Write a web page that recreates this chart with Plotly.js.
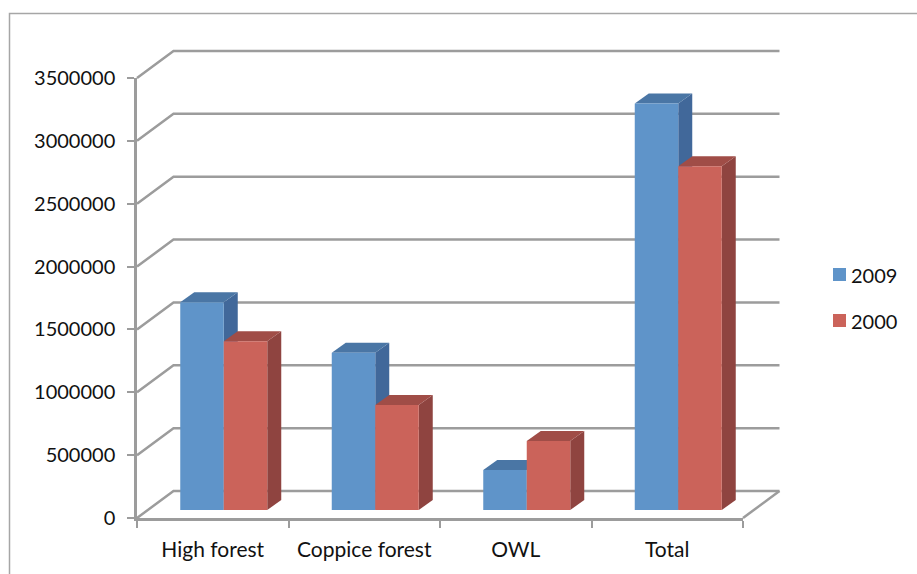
<!DOCTYPE html>
<html>
<head>
<meta charset="utf-8">
<script src="https://cdn.plot.ly/plotly-3.0.1.min.js"></script>
<style>html,body{margin:0;padding:0;background:#fff}#chart{width:917px;height:574px}</style>
</head>
<body>
<div id="chart"></div>
<script>
// Forest area by type
const categories = ['High forest', 'Coppice forest', 'OWL', 'Total'];
const series2009 = [1653000, 1250000, 318000, 3233000];
const series2000 = [1343000, 835000, 548000, 2734000];
const seriesNames = ['2009', '2000'];
const yTicks = [0, 500000, 1000000, 1500000, 2000000, 2500000, 3000000, 3500000];

// Pseudo-3D geometry, in pixels. The front plane carries the axes, the column
// plane the bars, and a slightly larger hidden subplot holds the wall and its edges.
const W = 917, H = 574;
const front = {left: 137, right: 743, bottom: 518, top: 78};
const wallShift = {x: 36.5, y: 27};
const barShift = {x: 11, y: 8};
const barDepth = {x: 14, y: 10};
const wallPad = 4;

const yMax = 3500000;
const pxPerCat = (front.right - front.left) / categories.length;
const pxPerVal = (front.bottom - front.top) / yMax;
const barPx = 43.5;

const gridColor = '#9c9c9c';
const blue = {face: '#5f94c9', side: '#41689a', top: '#4a76a5'};
const red = {face: '#cb635a', side: '#8f4440', top: '#a04d47'};
const fontFamily = 'Lato, "Open Sans", sans-serif';
const textColor = '#111111';

const xDomain = s => [(front.left + s.x) / W, (front.right + s.x) / W];
const yDomain = s => [(H - front.bottom + s.y) / H, (H - front.top + s.y) / H];
const catRange = [-0.5, categories.length - 0.5];
const dxCat = wallShift.x / pxPerCat, dyVal = wallShift.y / pxPerVal;

// Wall gridlines with their receding edges: front tick, back-left corner, back-right corner
const wallX = [], wallY = [];
yTicks.forEach(v => {
  wallX.push(catRange[0], catRange[0] + dxCat, catRange[1] + dxCat, null);
  wallY.push(v, v + dyVal, v + dyVal, null);
});
wallX.push(catRange[1] + dxCat, catRange[1], null);
wallY.push(dyVal, 0, null);

// Side and top faces of each column, derived from its value
const faceDx = barDepth.x / pxPerCat, faceDy = barDepth.y / pxPerVal;
const barW = barPx / pxPerCat;
function columnFaces(values, offset, c) {
  const out = [];
  values.forEach((v, i) => {
    const x0 = i + offset * barW, x1 = x0 + barW;
    const common = {type: 'path', xref: 'x3', yref: 'y3', layer: 'between', line: {width: 0}};
    out.push(Object.assign({}, common, {
      fillcolor: c.side,
      path: `M${x1},0 L${x1 + faceDx},${faceDy} L${x1 + faceDx},${v + faceDy} L${x1},${v} Z`
    }));
    out.push(Object.assign({}, common, {
      fillcolor: c.top,
      path: `M${x0},${v} L${x0 + faceDx},${v + faceDy} L${x1 + faceDx},${v + faceDy} L${x1},${v} Z`
    }));
  });
  return out;
}

// Legend swatches and labels
const legendRows = [
  {name: seriesNames[0], color: blue.face, y: 275},
  {name: seriesNames[1], color: red.face, y: 321}
];
const swatches = legendRows.map(r => ({
  type: 'rect', xref: 'paper', yref: 'paper', layer: 'above', line: {width: 0}, fillcolor: r.color,
  x0: 833 / W, x1: 846 / W, y0: 1 - (r.y + 6) / H, y1: 1 - (r.y - 7) / H
}));
const legendText = legendRows.map(r => ({
  text: r.name, xref: 'paper', yref: 'paper', x: 849 / W, y: 1 - r.y / H,
  xanchor: 'left', yanchor: 'middle', showarrow: false,
  font: {family: fontFamily, size: 20, color: textColor}
}));

// Outer frame, open past the right and bottom edges of the page
const frame = {
  type: 'path', xref: 'paper', yref: 'paper', layer: 'above',
  line: {color: '#a6a6a6', width: 1.5},
  path: `M${9.5 / W},-0.1 L${9.5 / W},${1 - 13.5 / H} L1.1,${1 - 13.5 / H}`
};

const traces = [
  {type: 'scatter', mode: 'lines', x: wallX, y: wallY, xaxis: 'x', yaxis: 'y',
   hoverinfo: 'skip', showlegend: false, line: {color: gridColor, width: 2.5}},
  // A blank trace keeps the front-plane axes in place
  {type: 'scatter', mode: 'none', x: [categories[0]], y: [0], xaxis: 'x2', yaxis: 'y2',
   hoverinfo: 'skip', showlegend: false},
  {type: 'bar', name: seriesNames[0], x: categories, y: series2009, xaxis: 'x3', yaxis: 'y3',
   marker: {color: blue.face, line: {width: 0}}, showlegend: false},
  {type: 'bar', name: seriesNames[1], x: categories, y: series2000, xaxis: 'x3', yaxis: 'y3',
   marker: {color: red.face, line: {width: 0}}, showlegend: false}
];

const hiddenAxis = {showgrid: false, zeroline: false, showline: false, ticks: '', showticklabels: false, fixedrange: true};

const layout = {
  width: W, height: H,
  margin: {l: 0, r: 0, t: 0, b: 0, pad: 0},
  paper_bgcolor: '#ffffff', plot_bgcolor: 'rgba(0,0,0,0)',
  showlegend: false,
  barmode: 'group',
  bargap: 1 - 2 * barPx / pxPerCat,
  bargroupgap: 0,
  // Wall subplot: spans the front plane and the wall, with a little room for line width
  xaxis: Object.assign({}, hiddenAxis, {
    domain: [(front.left - wallPad) / W, (front.right + wallShift.x + wallPad) / W],
    range: [catRange[0] - wallPad / pxPerCat, catRange[1] + dxCat + wallPad / pxPerCat],
    anchor: 'y', type: 'linear'}),
  yaxis: Object.assign({}, hiddenAxis, {
    domain: [(H - front.bottom - wallPad) / H, (H - front.top + wallShift.y + wallPad) / H],
    range: [-wallPad / pxPerVal, yMax + dyVal + wallPad / pxPerVal],
    anchor: 'x'}),
  // Front plane: the visible axes
  xaxis2: {domain: xDomain({x: 0, y: 0}), range: catRange, anchor: 'y2', type: 'category',
    categoryorder: 'array', categoryarray: categories, tickvals: categories, ticktext: categories, tickmode: 'array',
    tickson: 'boundaries', ticks: 'outside', ticklen: 7, tickwidth: 1.5, tickcolor: gridColor,
    showline: true, linecolor: gridColor, linewidth: 2.5, showgrid: false, zeroline: false, fixedrange: true,
    ticklabelstandoff: 11, tickfont: {family: fontFamily, size: 21, color: textColor}},
  yaxis2: {domain: yDomain({x: 0, y: 0}), range: [0, yMax], anchor: 'x2', tickmode: 'array', tickvals: yTicks,
    ticktext: yTicks.map(String), ticks: 'outside', ticklen: 7, tickwidth: 1.5, tickcolor: gridColor,
    showline: true, linecolor: gridColor, linewidth: 2.5, showgrid: false, zeroline: false, fixedrange: true,
    ticklabelstandoff: 8, tickfont: {family: fontFamily, size: 20, color: textColor}},
  // Column plane
  xaxis3: Object.assign({}, hiddenAxis, {domain: xDomain(barShift), range: catRange, anchor: 'y3', type: 'category',
    categoryorder: 'array', categoryarray: categories}),
  yaxis3: Object.assign({}, hiddenAxis, {domain: yDomain(barShift), range: [0, yMax], anchor: 'x3'}),
  shapes: [frame].concat(columnFaces(series2009, -1, blue), columnFaces(series2000, 0, red), swatches),
  annotations: legendText
};

Plotly.newPlot('chart', traces, layout, {displayModeBar: false, responsive: false});
</script>
</body>
</html>
